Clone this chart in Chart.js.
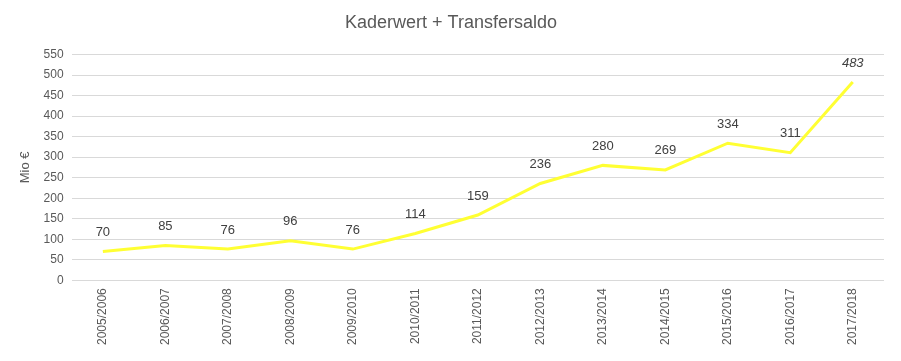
<!DOCTYPE html>
<html>
<head>
<meta charset="utf-8">
<script src="https://cdn.jsdelivr.net/npm/chart.js@4/dist/chart.umd.min.js"></script>
<style>
html,body{margin:0;padding:0;background:#fff;}
#wrap{width:901px;height:361px;position:relative;}
</style>
</head>
<body>
<div id="wrap"><canvas id="c"></canvas></div>
<script>
const seasons = ["2005/2006","2006/2007","2007/2008","2008/2009","2009/2010","2010/2011","2011/2012","2012/2013","2013/2014","2014/2015","2015/2016","2016/2017","2017/2018"];
const values = [70,85,76,96,76,114,159,236,280,269,334,311,483];
const italicIndex = [12];

const labelPlugin = {
  id: 'pointLabels',
  afterDatasetsDraw(chart) {
    const ctx = chart.ctx;
    const meta = chart.getDatasetMeta(0);
    ctx.save();
    ctx.fillStyle = '#404040';
    ctx.textAlign = 'center';
    ctx.textBaseline = 'middle';
    meta.data.forEach((pt, i) => {
      const it = italicIndex.includes(i);
      ctx.font = (it ? 'italic ' : '') + '13px "Liberation Sans", Arial, sans-serif';
      ctx.fillText(String(values[i]), pt.x, pt.y - 19);
    });
    ctx.restore();
  }
};

new Chart(document.getElementById('c'), {
  type: 'line',
  data: {
    labels: seasons,
    datasets: [{
      data: values,
      borderColor: '#ffff33',
      borderWidth: 3,
      pointRadius: 0,
      tension: 0,
      fill: false
    }]
  },
  options: {
    responsive: true,
    maintainAspectRatio: false,
    animation: false,
    layout: { padding: { left: 18, right: 17, top: 0, bottom: 8 } },
    plugins: {
      legend: { display: false },
      tooltip: { enabled: false },
      title: {
        display: true,
        text: 'Kaderwert + Transfersaldo',
        color: '#595959',
        font: { family: '"Liberation Sans", Arial, sans-serif', size: 18, weight: 'normal' },
        padding: { top: 12, bottom: 21 }
      }
    },
    scales: {
      x: {
        offset: true,
        grid: { display: false, drawTicks: false },
        border: { display: false },
        ticks: {
          color: '#595959',
          font: { family: '"Liberation Sans", Arial, sans-serif', size: 12 },
          maxRotation: 90, minRotation: 90,
          padding: 8
        }
      },
      y: {
        min: 0, max: 550,
        grid: { color: '#d9d9d9', drawTicks: false },
        border: { display: false },
        ticks: {
          stepSize: 50,
          color: '#595959',
          font: { family: '"Liberation Sans", Arial, sans-serif', size: 12 },
          padding: 8
        },
        title: {
          display: true,
          text: 'Mio €',
          color: '#595959',
          font: { family: '"Liberation Sans", Arial, sans-serif', size: 13 },
          padding: { top: 0, bottom: 2 }
        }
      }
    }
  },
  plugins: [labelPlugin]
});
</script>
</body>
</html>
